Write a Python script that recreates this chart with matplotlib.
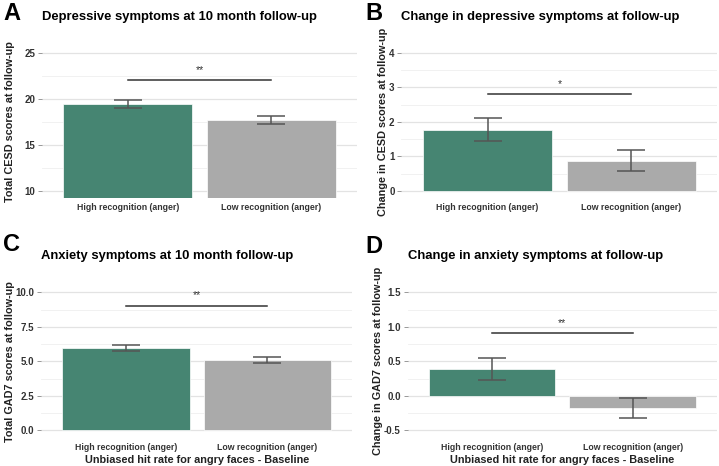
import matplotlib
matplotlib.use("Agg")
import matplotlib.pyplot as plt
from matplotlib.ticker import MultipleLocator

plt.rcParams['font.family'] = ['Liberation Sans', 'DejaVu Sans']

categories = ["High recognition (anger)", "Low recognition (anger)"]
colors = ["#468572", "#AAAAAA"]

titles = ["Depressive symptoms at 10 month follow-up",
          "Change in depressive symptoms at follow-up",
          "Anxiety symptoms at 10 month follow-up",
          "Change in anxiety symptoms at follow-up"]
letters = ["A", "B", "C", "D"]
ylabels = ["Total CESD scores at follow-up",
           "Change in CESD scores at follow-up",
           "Total GAD7 scores at follow-up",
           "Change in GAD7 scores at follow-up"]
xlabel = "Unbiased hit rate for angry faces - Baseline"

means_A = [19.42, 17.72]
se_A = [0.44, 0.45]
means_B = [1.77, 0.87]
se_B = [0.33, 0.30]
means_C = [5.97, 5.09]
se_C = [0.19, 0.19]
means_D = [0.39, -0.17]
se_D = [0.155, 0.145]

sig_labels = ["**", "*", "**", "**"]
sig_y = [22.03, 2.80, 9.03, 0.91]

ylims = [(9.25, 25.75), (-0.2, 4.2), (-0.5, 10.5), (-0.6, 1.6)]
yticks = [[10, 15, 20, 25], [0, 1, 2, 3, 4], [0, 2.5, 5, 7.5, 10], [-0.5, 0, 0.5, 1.0, 1.5]]
minor_step = [2.5, 0.5, 1.25, 0.25]
tickfmt = ["{:.0f}", "{:.0f}", "{:.1f}", "{:.1f}"]
bar_base = [9.25, 0, 0, 0]

# axes rectangles in pixels: left, top, right, bottom
W, H = 719, 466
rects = [(42, 46.1, 357, 197.7), (401.5, 46.1, 717.5, 197.7),
         (41.2, 285.4, 352.1, 437.2), (407.6, 285.4, 717.1, 437.2)]
ylabel_x = [10, 383, 10, 378]
title_y = [16.7, 16.7, 255.7, 256.3]
letter_pos = [(3, 13.3), (365, 13.3), (3, 245), (365, 246.5)]

fig = plt.figure(figsize=(W / 100, H / 100), dpi=100)
fig.patch.set_facecolor("white")

means = [means_A, means_B, means_C, means_D]
ses = [se_A, se_B, se_C, se_D]

for i in range(4):
    l, t, r, b = rects[i]
    ax = fig.add_axes([l / W, 1 - b / H, (r - l) / W, (b - t) / H])
    x = [1, 2]
    m = means[i]
    base = bar_base[i]
    heights = [v - base for v in m]
    ax.bar(x, heights, bottom=base, width=0.9, color=colors, edgecolor="white",
           linewidth=0.5, zorder=2)
    ax.errorbar(x, m, yerr=ses[i], fmt="none", ecolor="#555555", elinewidth=1.1,
                capsize=10, capthick=1.1, zorder=3)
    ax.plot([1, 2], [sig_y[i], sig_y[i]], color="#333333", lw=1.1, zorder=3)
    ax.text(1.5, sig_y[i] + (ylims[i][1] - ylims[i][0]) * 0.035, sig_labels[i],
            ha="center", va="bottom", fontsize=7.5, color="#333333")
    ax.set_xlim(0.4, 2.6)
    ax.set_ylim(*ylims[i])
    ax.set_yticks(yticks[i])
    ax.set_yticklabels([tickfmt[i].format(v) for v in yticks[i]])
    ax.yaxis.set_minor_locator(MultipleLocator(minor_step[i]))
    ax.grid(axis="y", which="major", color="#E3E3E3", lw=0.9, zorder=0)
    ax.grid(axis="y", which="minor", color="#EFEFEF", lw=0.6, zorder=0)
    ax.set_axisbelow(True)
    ax.set_xticks(x)
    ax.set_xticklabels(categories, fontsize=6.3, fontweight="bold", color="#333333")
    ax.tick_params(axis="x", length=0, pad=4)
    ax.tick_params(axis="y", which="major", length=3, width=0.6, color="#888888",
                   labelsize=7, labelcolor="#333333", pad=2)
    ax.tick_params(axis="y", which="minor", length=0)
    for lab in ax.get_yticklabels():
        lab.set_fontweight("bold")
    for s in ax.spines.values():
        s.set_visible(False)
    ax.set_facecolor("white")
    ax.set_ylabel(ylabels[i], fontsize=7.8, fontweight="bold", color="#222222")
    ax.yaxis.set_label_coords((ylabel_x[i] - l) / (r - l), 0.5)
    ax.yaxis.label.set_va("center")
    if i >= 2:
        ax.set_xlabel(xlabel, fontsize=7.8, fontweight="bold", color="#222222",
                      labelpad=2)
    # title
    fig.text(l / W, 1 - title_y[i] / H, titles[i], fontsize=9.35, fontweight="bold",
             ha="left", va="center", color="black")
    # panel letter
    lx, ly = letter_pos[i]
    fig.text(lx / W, 1 - ly / H, letters[i], fontsize=17,
             fontweight="bold", ha="left", va="center", color="black")

fig.savefig("out.png", dpi=100)
